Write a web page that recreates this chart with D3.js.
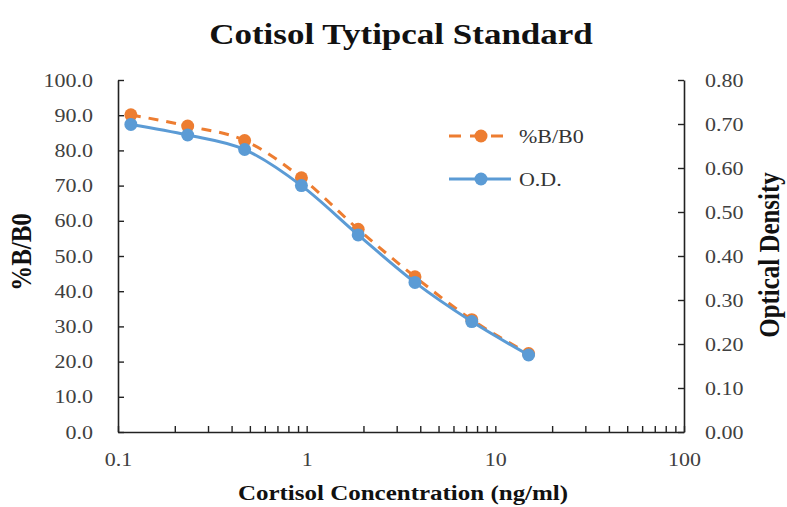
<!DOCTYPE html>
<html>
<head>
<meta charset="utf-8">
<script src="https://cdn.jsdelivr.net/npm/d3@7"></script>
<style>
  html, body { margin: 0; padding: 0; background: #fff; }
  svg text { font-family: "Liberation Serif", "Times New Roman", serif; }
</style>
</head>
<body>
<svg id="chart" width="787" height="507"></svg>
<script>
// concentrations (ng/ml), 2-fold dilution series
const conc = [0.117, 0.234, 0.469, 0.938, 1.875, 3.75, 7.5, 15];
const pctB0 = [90.1, 86.9, 82.8, 72.2, 57.6, 44.1, 31.9, 22.3];
const od = [0.699, 0.675, 0.642, 0.560, 0.448, 0.340, 0.251, 0.175];
const leftTicks = [0, 10, 20, 30, 40, 50, 60, 70, 80, 90, 100];
const rightTicks = [0, 0.1, 0.2, 0.3, 0.4, 0.5, 0.6, 0.7, 0.8];
const xTicks = [0.1, 1, 10, 100];

const W = 787, H = 507;
const m = { top: 80, right: 103, bottom: 75, left: 118 };
const iW = W - m.left - m.right;
const iH = H - m.top - m.bottom;

const ORANGE = "#ED7D31", BLUE = "#5B9BD5";
const SERIF = "Liberation Serif, Times New Roman, serif";
const SQ = 0.86; // the picture is squeezed vertically a little

const svg = d3.select("#chart");

// text helper: horizontal text squeezed vertically
function hText(x0, y0, str, size, bold, anchor, fill) {
  return svg.append("text")
    .attr("transform", `translate(${x0},${y0}) scale(1,${SQ})`)
    .attr("text-anchor", anchor)
    .style("font-size", size + "px").style("font-weight", bold ? "bold" : "normal")
    .style("fill", fill)
    .text(str);
}
// vertical text (rotated), squeezed along its length
function vText(x0, y0, str, size) {
  return svg.append("text")
    .attr("transform", `translate(${x0},${y0}) rotate(-90) scale(${SQ},1)`)
    .attr("text-anchor", "middle")
    .style("font-size", size + "px").style("font-weight", "bold").style("fill", "#111")
    .text(str);
}

// Title
hText(401, 44, "Cotisol Tytipcal Standard", 35, true, "middle", "#111");

const g = svg.append("g").attr("transform", `translate(${m.left},${m.top})`);

const x = d3.scaleLog().domain([0.1, 100]).range([0, iW]);
const yL = d3.scaleLinear().domain([0, 100]).range([iH, 0]);
const yR = d3.scaleLinear().domain([0, 0.8]).range([iH, 0]);

// minor ticks for log axis
const minor = [];
[0.1, 1, 10].forEach(d => { for (let k = 1; k <= 9; k++) minor.push(d * k); });
minor.push(100);

const axisStyle = sel => {
  sel.attr("font-family", SERIF).attr("font-size", 22);
  sel.select(".domain").attr("stroke", "#222").attr("stroke-width", 1.6);
  sel.selectAll(".tick line").attr("stroke", "#222").attr("stroke-width", 1.4);
  sel.selectAll(".tick text")
    .attr("font-family", SERIF).attr("font-size", 22)
    .attr("fill", "#404040");
};

// Bottom axis (ticks point inward)
g.append("g")
  .attr("transform", `translate(0,${iH})`)
  .call(d3.axisBottom(x).tickValues(minor).tickSizeInner(-6).tickSizeOuter(0)
    .tickFormat(d => xTicks.includes(+d.toPrecision(3)) ? d3.format("~g")(+d.toPrecision(3)) : ""))
  .call(axisStyle)
  .call(s => s.selectAll(".tick text")
    .attr("y", 0).attr("dy", 0)
    .attr("transform", `translate(0,34) scale(1,${SQ})`));

// Left axis
g.append("g")
  .call(d3.axisLeft(yL).tickValues(leftTicks).tickSizeInner(-6).tickSizeOuter(0)
    .tickPadding(25).tickFormat(d3.format(".1f")))
  .call(axisStyle)
  .call(s => s.selectAll(".tick text").attr("transform", `scale(1,${SQ})`));

// Right axis
g.append("g")
  .attr("transform", `translate(${iW},0)`)
  .call(d3.axisRight(yR).tickValues(rightTicks).tickSizeInner(-6).tickSizeOuter(0)
    .tickPadding(21).tickFormat(d3.format(".2f")))
  .call(axisStyle)
  .call(s => s.selectAll(".tick text").attr("transform", `scale(1,${SQ})`));

// Axis titles
hText(403, 500, "Cortisol Concentration (ng/ml)", 25, true, "middle", "#111");
vText(31, 252, "%B/B0", 29);
vText(779, 255, "Optical Density", 29);

// Series
const pctData = conc.map((c, i) => ({ c, v: pctB0[i] }));
const odData = conc.map((c, i) => ({ c, v: od[i] }));

const linePct = d3.line().x(d => x(d.c)).y(d => yL(d.v)).curve(d3.curveMonotoneX);
const lineOd = d3.line().x(d => x(d.c)).y(d => yR(d.v)).curve(d3.curveMonotoneX);

g.append("path").datum(pctData)
  .attr("fill", "none").attr("stroke", ORANGE).attr("stroke-width", 3)
  .attr("stroke-dasharray", "10,8")
  .attr("d", linePct);

g.selectAll(".pt-pct").data(pctData).join("circle")
  .attr("class", "pt-pct")
  .attr("cx", d => x(d.c)).attr("cy", d => yL(d.v))
  .attr("r", 6.5).attr("fill", ORANGE);

g.append("path").datum(odData)
  .attr("fill", "none").attr("stroke", BLUE).attr("stroke-width", 3)
  .attr("d", lineOd);

g.selectAll(".pt-od").data(odData).join("circle")
  .attr("class", "pt-od")
  .attr("cx", d => x(d.c)).attr("cy", d => yR(d.v))
  .attr("r", 6.5).attr("fill", BLUE);

// Legend
const items = [
  { name: "%B/B0", color: ORANGE, dash: "12,9", y: 136 },
  { name: "O.D.", color: BLUE, dash: null, y: 179 }
];
items.forEach(it => {
  svg.append("line")
    .attr("x1", 449).attr("x2", 511).attr("y1", it.y).attr("y2", it.y)
    .attr("stroke", it.color).attr("stroke-width", 3)
    .attr("stroke-dasharray", it.dash);
  svg.append("circle").attr("cx", 481).attr("cy", it.y).attr("r", 6.5).attr("fill", it.color);
  hText(519, it.y + 6.5, it.name, 22, false, "start", "#333");
});
</script>
</body>
</html>
